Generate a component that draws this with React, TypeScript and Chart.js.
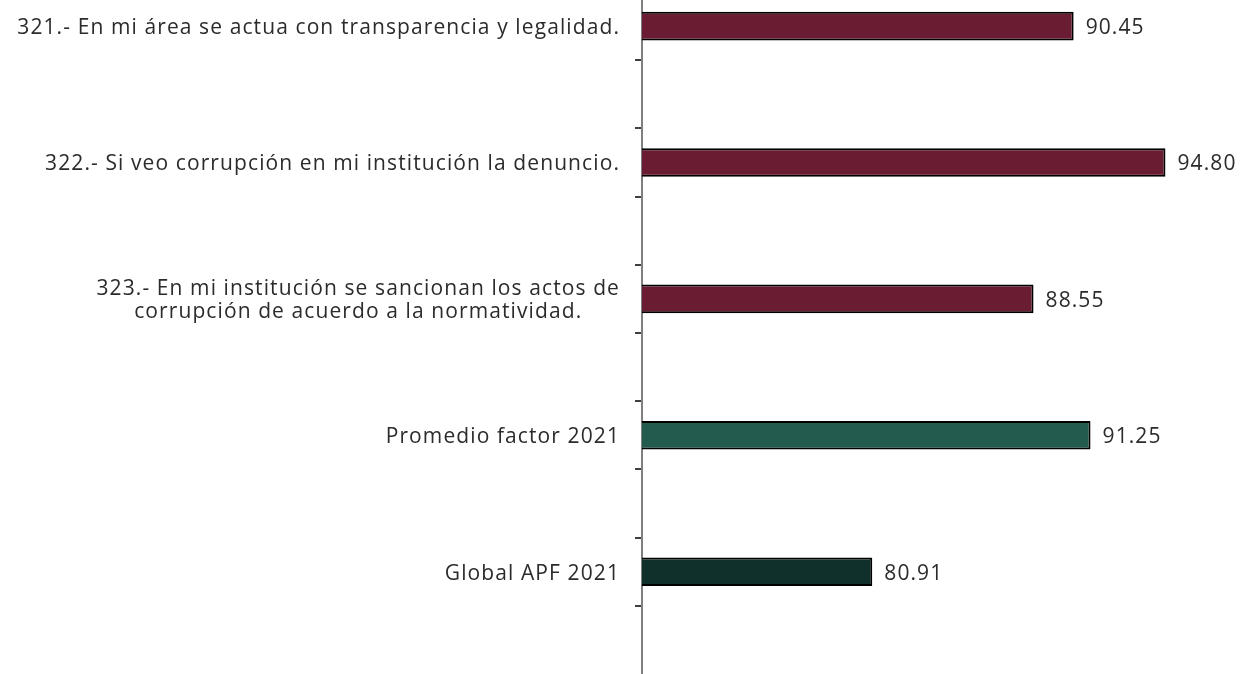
import React, { useEffect, useRef } from "react";
import { Chart, registerables } from "chart.js";

Chart.register(...registerables);

const categories: string[][] = [
  ["321.- En mi área se actua con transparencia y legalidad."],
  ["322.- Si veo corrupción en mi institución la denuncio."],
  ["323.- En mi institución se sancionan los actos de", "corrupción de acuerdo a la normatividad."],
  ["Promedio factor 2021"],
  ["Global APF 2021"],
];
const values: number[] = [90.45, 94.8, 88.55, 91.25, 80.91];
const barColors: string[] = ["#691C32", "#691C32", "#691C32", "#235B4E", "#10312B"];

const FONT_FAMILY = "'Open Sans', sans-serif";
const FONT_SIZE = 21;
const LETTER_SPACING = "1.1px";
const TEXT_COLOR = "#2b2b2b";

const labelsPlugin = {
  id: "customLabels",
  afterDraw(chart: any) {
    const { ctx, chartArea } = chart;
    const yScale = chart.scales.y;
    ctx.save();
    ctx.font = `${FONT_SIZE}px ${FONT_FAMILY}`;
    try {
      (ctx as any).letterSpacing = LETTER_SPACING;
    } catch (e) {}
    ctx.fillStyle = TEXT_COLOR;
    ctx.textBaseline = "middle";
    // category labels
    const right = chartArea.left - 22;
    const lineH = 23;
    categories.forEach((lines, i) => {
      const yc = yScale.getPixelForValue(i);
      const maxW = Math.max(...lines.map((l) => ctx.measureText(l).width));
      const cx = right - maxW / 2;
      ctx.textAlign = "center";
      lines.forEach((l, k) => {
        const y = yc + 2 + (k - (lines.length - 1) / 2) * lineH;
        ctx.fillText(l, cx, y);
      });
    });
    // value labels
    const meta = chart.getDatasetMeta(0);
    ctx.textAlign = "left";
    meta.data.forEach((bar: any, i: number) => {
      ctx.fillText(values[i].toFixed(2), bar.x + 12, bar.y + 2);
    });
    ctx.restore();
  },
};

export default function App() {
  const canvasRef = useRef<HTMLCanvasElement | null>(null);

  useEffect(() => {
    if (!canvasRef.current) return;
    const tickValues: number[] = [];
    for (let i = 0; i < categories.length; i++) {
      if (i > 0) tickValues.push(i - 0.25);
      tickValues.push(i + 0.25);
    }
    const chart = new Chart(canvasRef.current, {
      type: "bar",
      data: {
        datasets: [
          {
            data: values.map((v, i) => ({ x: v, y: i })),
            backgroundColor: barColors,
            borderColor: "#000000",
            borderWidth: 2,
            barPercentage: 0.42,
            categoryPercentage: 1,
          } as any,
        ],
      },
      options: {
        indexAxis: "y",
        animation: false,
        responsive: true,
        maintainAspectRatio: false,
        layout: { padding: { left: 0, right: 11, top: 0, bottom: 0 } },
        plugins: { legend: { display: false }, tooltip: { enabled: false } },
        scales: {
          x: {
            type: "linear",
            min: 70,
            max: 98,
            display: false,
          },
          y: {
            type: "linear",
            min: -0.25,
            max: categories.length - 0.25,
            reverse: true,
            offset: false,
            afterBuildTicks: (scale: any) => {
              scale.ticks = tickValues.map((v) => ({ value: v }));
            },
            afterFit: (scale: any) => {
              scale.width = 642;
            },
            ticks: { display: false },
            grid: {
              offset: false,
              drawOnChartArea: false,
              drawTicks: true,
              tickLength: 7,
              color: "#404040",
              lineWidth: 2,
            },
            border: { display: true, color: "#7f7f7f", width: 2 },
          },
        },
      },
      plugins: [labelsPlugin],
    });
    return () => chart.destroy();
  }, []);

  return (
    <div style={{ position: "fixed", left: 0, top: -8, width: 1244, height: 682 }}>
      <canvas ref={canvasRef} />
    </div>
  );
}
